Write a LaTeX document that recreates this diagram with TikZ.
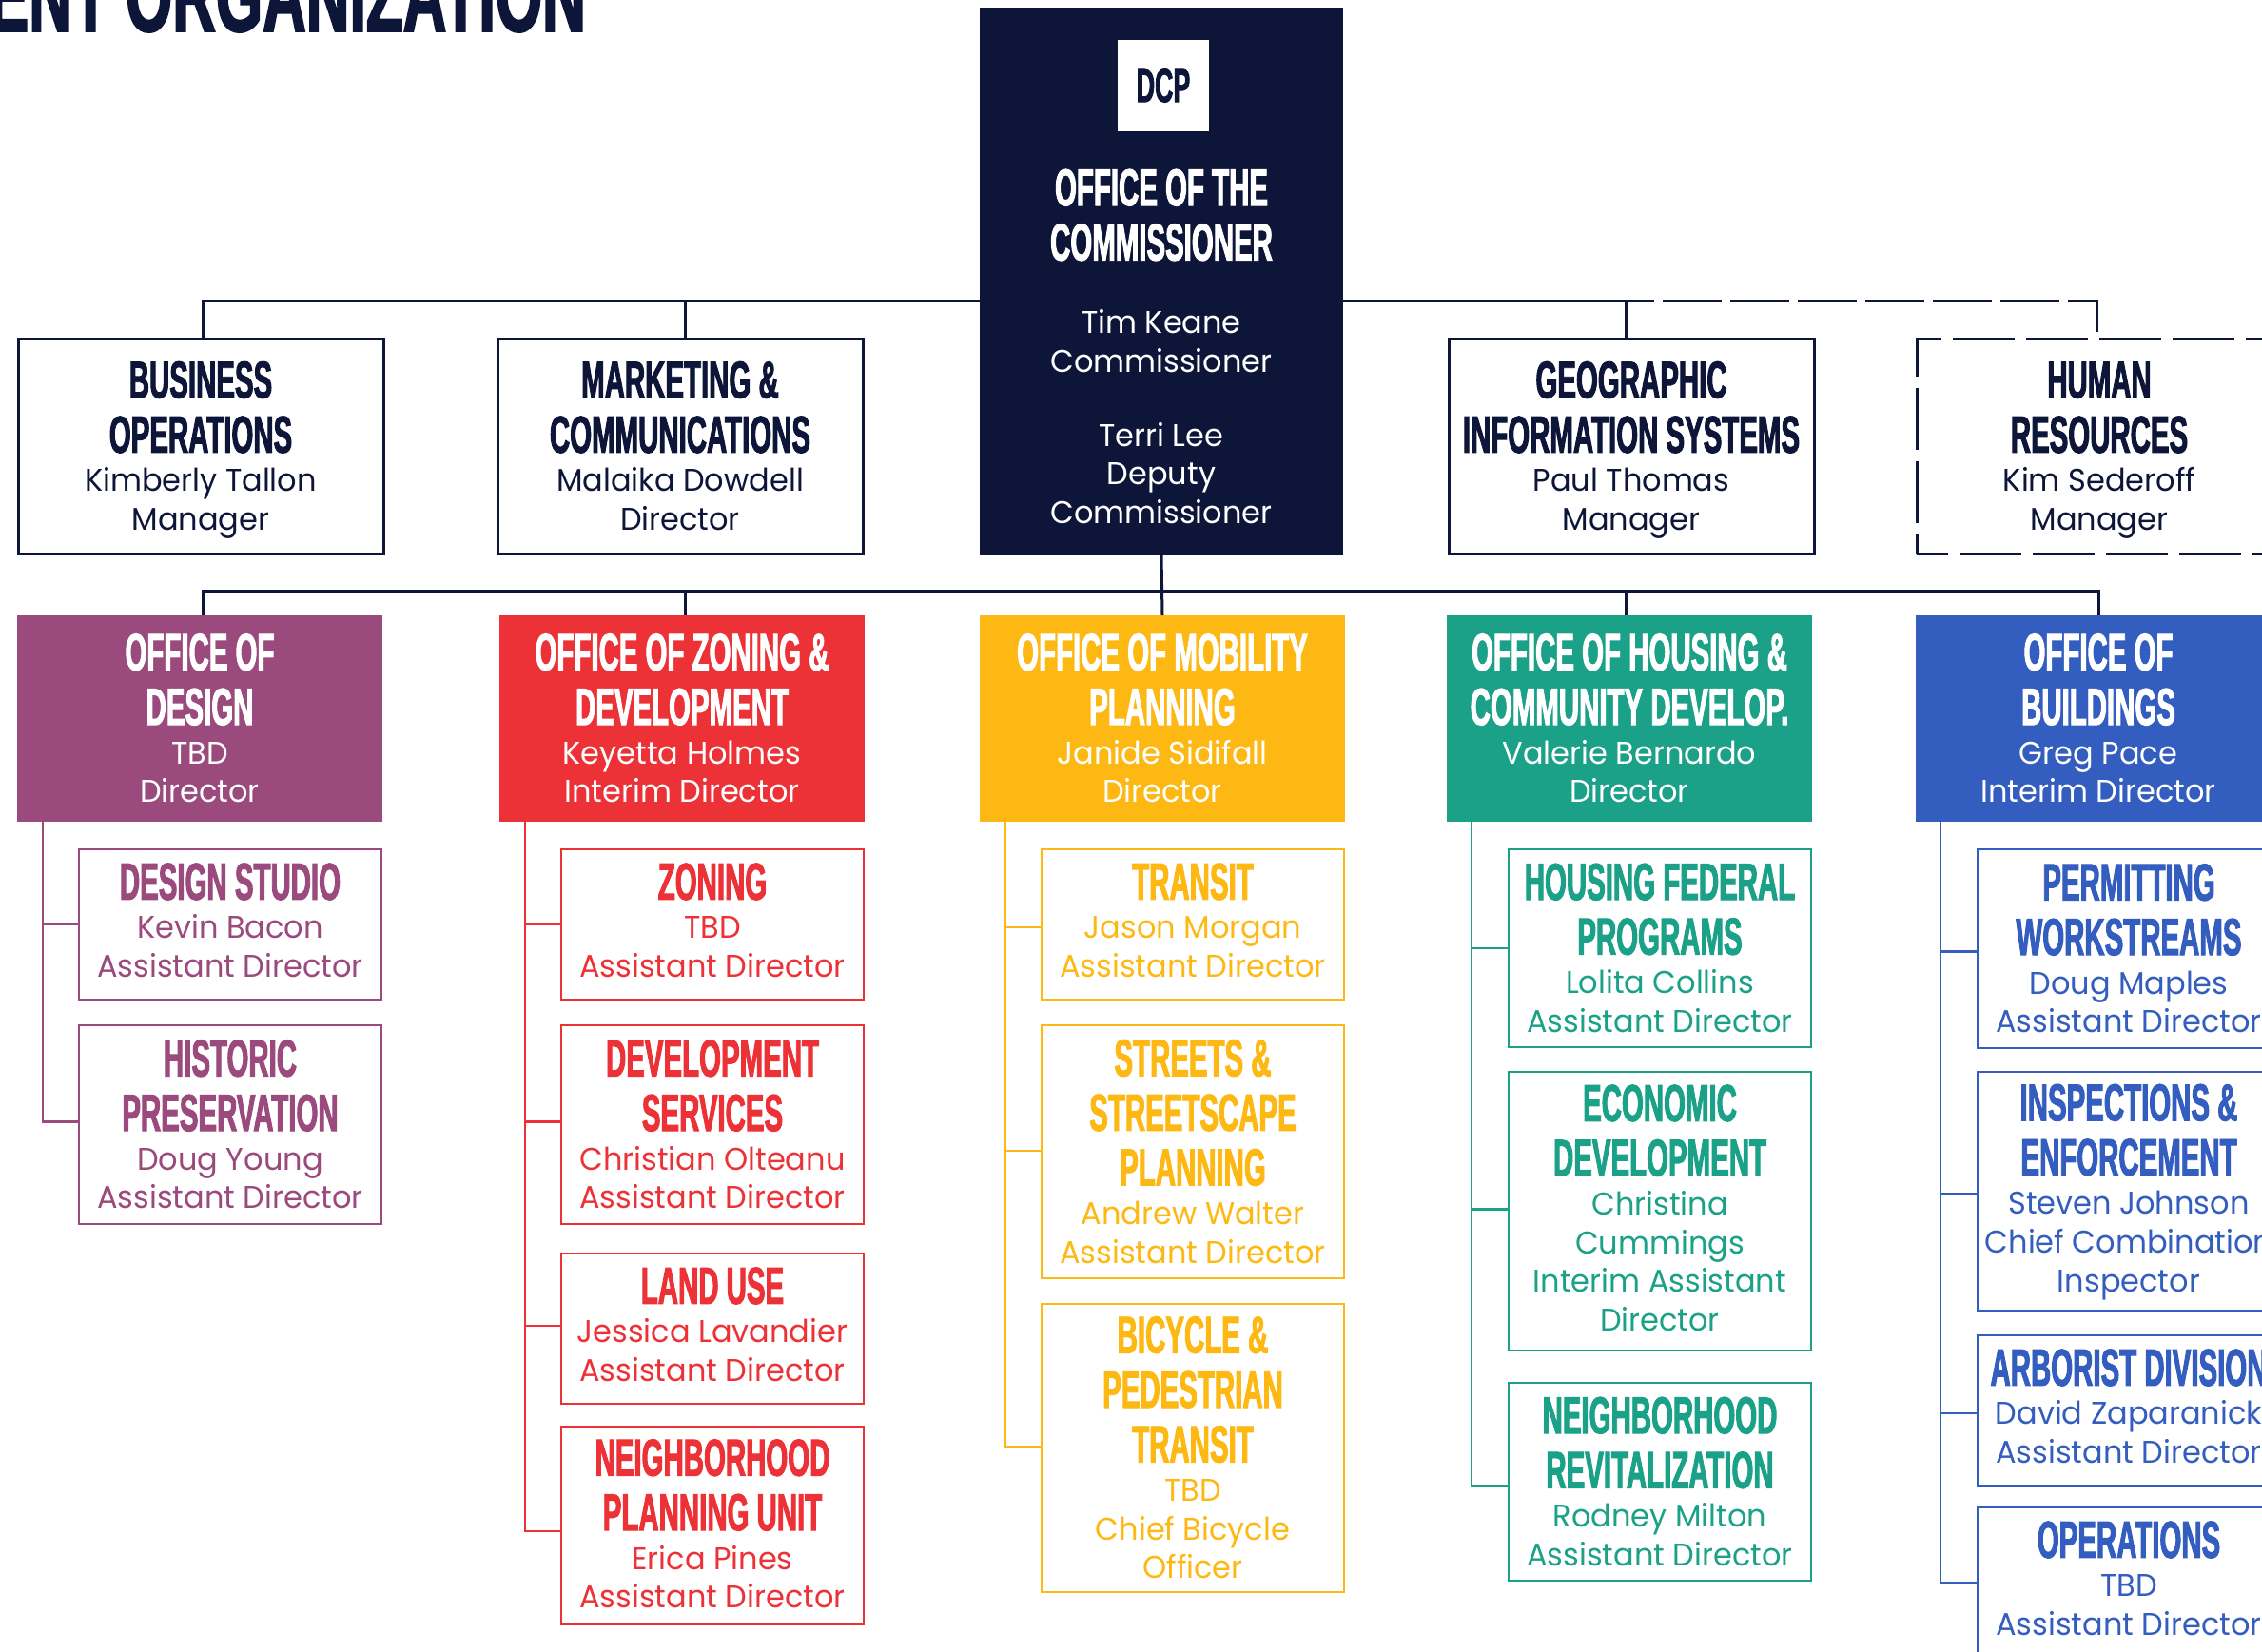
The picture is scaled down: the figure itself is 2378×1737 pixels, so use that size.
\documentclass[tikz,border=0pt]{standalone}
\usepackage{fontspec}
\newfontfamily\hdf[FakeStretch=0.535,FakeBold=1.7]{Liberation Sans Bold}
\newfontfamily\ttf[FakeStretch=0.575,FakeBold=1.7]{Liberation Sans Bold}
\newfontfamily\bdf[FakeStretch=0.97]{Poppins}
\newcommand{\hh}[1]{{\hdf\fontsize{55}{55}\selectfont\rule[-10pt]{0pt}{57.5pt}#1}}
\newcommand{\bb}[1]{{\bdf\fontsize{33}{33}\selectfont\rule[-10pt]{0pt}{40.8pt}#1}}
% last line with extra depth, which lifts the centred block
\newcommand{\bl}[2]{{\bdf\fontsize{33}{33}\selectfont\rule[-#1]{0pt}{\dimexpr30.8pt+#1\relax}#2}}
\newcommand{\linesetup}{\baselineskip=0pt\lineskip=0pt\lineskiplimit=16000pt}
\definecolor{navy}{HTML}{0D1539}
\definecolor{cdes}{HTML}{9A4A7C}
\definecolor{czon}{HTML}{EC3237}
\definecolor{cmob}{HTML}{FDB813}
\definecolor{chou}{HTML}{1BA187}
\definecolor{cbui}{HTML}{335DBE}
\tikzset{
  mainbox/.style={draw=navy,line width=3pt,fill=white,text=navy,inner sep=0pt,outer sep=0pt,align=center,font=\linesetup,anchor=north west,minimum height=226.5pt,minimum width=384pt},
  officebox/.style={fill=#1,text=white,inner sep=0pt,outer sep=0pt,align=center,font=\linesetup,anchor=north west,minimum height=217pt,minimum width=384pt},
  subbox/.style={draw=#1,text=#1,line width=2.6pt,fill=white,inner sep=0pt,outer sep=0pt,align=center,font=\linesetup,anchor=north west,minimum width=318pt},
  ln/.style={draw=navy,line width=3pt},
  sl/.style={draw=#1,line width=2.6pt}
}
\begin{document}
\begin{tikzpicture}[x=1pt,y=-1pt]
\useasboundingbox (0,0) rectangle (2378,1737);
% clipped title
\node[anchor=base east,text=navy,inner sep=0pt] (pagetitle) at (616,33) {\ttf\fontsize{110}{110}\selectfont ENT ORGANIZATION};
% top office
\node[fill=navy,inner sep=0pt,outer sep=0pt,anchor=north west,minimum width=382pt,minimum height=576pt] (top) at (1030,8) {};
\node[fill=white,inner sep=0pt,minimum width=96pt,minimum height=96pt,text=navy] (logo) at (1223,90) {\hdf\fontsize{50}{50}\selectfont DCP};
\node[text=white,align=center,font=\linesetup,inner sep=0pt,anchor=north] (toptext) at (1221,168.5) {\hh{OFFICE OF THE}\\\hh{COMMISSIONER}\\[36pt]\bb{Tim Keane}\\\bb{Commissioner}\\[37pt]\bb{Terri Lee}\\\bb{Deputy}\\\bb{Commissioner}};
% staff
\node[mainbox] (biz) at (19,356) {\hh{BUSINESS}\\\hh{OPERATIONS}\\\bb{Kimberly Tallon}\\\bb{Manager}};
\node[mainbox] (mkt) at (523,356) {\hh{MARKETING \&}\\\hh{COMMUNICATIONS}\\\bb{Malaika Dowdell}\\\bb{Director}};
\node[mainbox] (gis) at (1523,356) {\hh{GEOGRAPHIC}\\\hh{INFORMATION SYSTEMS}\\\bb{Paul Thomas}\\\bb{Manager}};
\node[mainbox,dash pattern=on 65pt off 12pt,dash phase=32pt] (hr) at (2015,356) {\hh{HUMAN}\\\hh{RESOURCES}\\\bb{Kim Sederoff}\\\bb{Manager}};
% offices
\node[officebox=cdes] (des) at (18,647) {\hh{OFFICE OF}\\\hh{DESIGN}\\\bb{TBD}\\\bb{Director}};
\node[officebox=czon] (zon) at (525,647) {\hh{OFFICE OF ZONING \&}\\\hh{DEVELOPMENT}\\\bb{Keyetta Holmes}\\\bb{Interim Director}};
\node[officebox=cmob] (mob) at (1030,647) {\hh{OFFICE OF MOBILITY}\\\hh{PLANNING}\\\bb{Janide Sidifall}\\\bb{Director}};
\node[officebox=chou] (hou) at (1521,647) {\hh{OFFICE OF HOUSING \&}\\\hh{COMMUNITY DEVELOP.}\\\bb{Valerie Bernardo}\\\bb{Director}};
\node[officebox=cbui] (bui) at (2014,647) {\hh{OFFICE OF}\\\hh{BUILDINGS}\\\bb{Greg Pace}\\\bb{Interim Director}};
% design
\node[subbox=cdes,minimum height=158pt] (d1) at (83,893) {\hh{DESIGN STUDIO}\\\bb{Kevin Bacon}\\\bl{18pt}{Assistant Director}};
\node[subbox=cdes,minimum height=209pt] (d2) at (83,1078) {\hh{HISTORIC}\\\hh{PRESERVATION}\\\bb{Doug Young}\\\bb{Assistant Director}};
% zoning
\node[subbox=czon,minimum height=158pt] (z1) at (590,893) {\hh{ZONING}\\\bb{TBD}\\\bl{18pt}{Assistant Director}};
\node[subbox=czon,minimum height=209pt] (z2) at (590,1078) {\hh{DEVELOPMENT}\\\hh{SERVICES}\\\bb{Christian Olteanu}\\\bb{Assistant Director}};
\node[subbox=czon,minimum height=158pt] (z3) at (590,1318) {\hh{LAND USE}\\\bb{Jessica Lavandier}\\\bl{18pt}{Assistant Director}};
\node[subbox=czon,minimum height=208pt] (z4) at (590,1500) {\hh{NEIGHBORHOOD}\\\hh{PLANNING UNIT}\\\bb{Erica Pines}\\\bl{13pt}{Assistant Director}};
% mobility
\node[subbox=cmob,minimum height=158pt] (m1) at (1095,893) {\hh{TRANSIT}\\\bb{Jason Morgan}\\\bl{18pt}{Assistant Director}};
\node[subbox=cmob,minimum height=266pt] (m2) at (1095,1078) {\hh{STREETS \&}\\\hh{STREETSCAPE}\\\hh{PLANNING}\\\bb{Andrew Walter}\\\bb{Assistant Director}};
\node[subbox=cmob,minimum height=303pt] (m3) at (1095,1371) {\hh{BICYCLE \&}\\\hh{PEDESTRIAN}\\\hh{TRANSIT}\\\bb{TBD}\\\bb{Chief Bicycle}\\\bb{Officer}};
% housing
\node[subbox=chou,minimum height=208pt] (h1) at (1586,893) {\hh{HOUSING FEDERAL}\\\hh{PROGRAMS}\\\bb{Lolita Collins}\\\bb{Assistant Director}};
\node[subbox=chou,minimum height=293pt] (h2) at (1586,1127) {\hh{ECONOMIC}\\\hh{DEVELOPMENT}\\\bb{Christina}\\\bb{Cummings}\\\bb{Interim Assistant}\\\bl{16pt}{Director}};
\node[subbox=chou,minimum height=208pt] (h3) at (1586,1454) {\hh{NEIGHBORHOOD}\\\hh{REVITALIZATION}\\\bb{Rodney Milton}\\\bb{Assistant Director}};
% buildings
\node[subbox=cbui,minimum height=209pt] (b1) at (2079,893) {\hh{PERMITTING}\\\hh{WORKSTREAMS}\\\bb{Doug Maples}\\\bb{Assistant Director}};
\node[subbox=cbui,minimum height=251pt] (b2) at (2079,1127) {\hh{INSPECTIONS \&}\\\hh{ENFORCEMENT}\\\bb{Steven Johnson}\\\bb{Chief Combination}\\\bl{16pt}{Inspector}};
\node[subbox=cbui,minimum height=158pt] (b3) at (2079,1404) {\hh{ARBORIST DIVISION}\\\bb{David Zaparanick}\\\bl{18pt}{Assistant Director}};
\node[subbox=cbui,minimum height=158pt] (b4) at (2079,1585) {\hh{OPERATIONS}\\\bb{TBD}\\\bl{18pt}{Assistant Director}};
% upper connectors
\coordinate (hl) at (1030,316.5);
\coordinate (hr0) at (1412,316.5);
\coordinate (bar) at (1221,621.6);
\draw[ln] (hl) -| ([xshift=2pt]biz.north);
\draw[ln] (hl) -| ([xshift=5.5pt]mkt.north);
\draw[ln] (hr0) -| ([xshift=-6pt]gis.north);
\coordinate (dashstart) at ([xshift=-6pt]gis.north |- hr0);
\draw[ln,dash pattern=on 62pt off 9pt,dash phase=32pt] (dashstart) -| ([xshift=-3pt]hr.north);
% lower bar
\draw[ln] (top.south) -- (mob.north);
\draw[ln] ([xshift=3pt]des.north) |- (bar);
\draw[ln] ([xshift=3pt]zon.north) |- (bar);
\draw[ln] ([xshift=-4pt]hou.north) |- (bar);
\draw[ln] ([xshift=0pt]bui.north) |- (bar);
% sub connectors
\foreach \s/\dy in {d1/0,d2/3} \draw[sl=cdes] ([xshift=27pt]des.south west) |- ([yshift=\dy pt]\s.west);
\foreach \s/\dy in {z1/0,z2/3,z3/3,z4/-6} \draw[sl=czon] ([xshift=27pt]zon.south west) |- ([yshift=\dy pt]\s.west);
\foreach \s/\dy in {m1/-3,m2/1,m3/1} \draw[sl=cmob] ([xshift=27pt]mob.south west) |- ([yshift=\dy pt]\s.west);
\foreach \s/\dy in {h1/0,h2/2,h3/-4} \draw[sl=chou] ([xshift=26pt]hou.south west) |- ([yshift=\dy pt]\s.west);
\foreach \s/\dy in {b1/-3,b2/-3,b3/-3,b4/0} \draw[sl=cbui] ([xshift=26pt]bui.south west) |- ([yshift=\dy pt]\s.west);
\end{tikzpicture}
\end{document}
